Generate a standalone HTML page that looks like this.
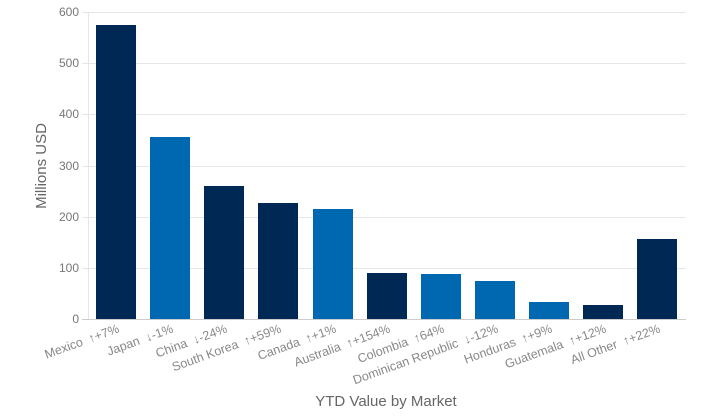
<!DOCTYPE html>
<html><head><style>body{margin:0;background:#fff}svg{display:block;font-family:"Liberation Sans",sans-serif}text{white-space:pre}</style></head><body>
<svg width="712" height="418" viewBox="0 0 712 418">
<g stroke="#e6e6e6" stroke-width="1">
<line x1="82" y1="12.5" x2="686" y2="12.5"/><line x1="82" y1="63.5" x2="686" y2="63.5"/><line x1="82" y1="114.5" x2="686" y2="114.5"/><line x1="82" y1="166.5" x2="686" y2="166.5"/><line x1="82" y1="217.5" x2="686" y2="217.5"/><line x1="82" y1="268.5" x2="686" y2="268.5"/>
<line x1="88.5" y1="12" x2="88.5" y2="319"/>
</g>
<line x1="82" y1="319.5" x2="686" y2="319.5" stroke="#ccc"/>
<g fill="#777" font-size="12" text-anchor="end">
<text x="79" y="16">600</text><text x="79" y="67">500</text><text x="79" y="118">400</text><text x="79" y="170">300</text><text x="79" y="221">200</text><text x="79" y="272">100</text><text x="79" y="323">0</text>
</g>
<g>
<rect x="96" y="25" width="40" height="294" fill="#002855"/>
<rect x="150" y="137" width="40" height="182" fill="#0067b1"/>
<rect x="204" y="186" width="40" height="133" fill="#002855"/>
<rect x="258" y="203" width="40" height="116" fill="#002855"/>
<rect x="313" y="209" width="40" height="110" fill="#0067b1"/>
<rect x="367" y="273" width="40" height="46" fill="#002855"/>
<rect x="421" y="274" width="40" height="45" fill="#0067b1"/>
<rect x="475" y="281" width="40" height="38" fill="#0067b1"/>
<rect x="529" y="302" width="40" height="17" fill="#0067b1"/>
<rect x="583" y="305" width="40" height="14" fill="#002855"/>
<rect x="637" y="239" width="40" height="80" fill="#002855"/>
</g>
<g fill="#888" font-size="12.5" text-anchor="end">
<text transform="translate(120,332) rotate(-20)">Mexico  ↑+7%</text>
<text transform="translate(174,332) rotate(-20)">Japan  ↓-1%</text>
<text transform="translate(228,332) rotate(-20)">China  ↓-24%</text>
<text transform="translate(282,332) rotate(-20)">South Korea  ↑+59%</text>
<text transform="translate(337,332) rotate(-20)">Canada  ↑+1%</text>
<text transform="translate(391,332) rotate(-20)">Australia  ↑+154%</text>
<text transform="translate(445,332) rotate(-20)">Colombia  ↑64%</text>
<text transform="translate(499,332) rotate(-20)">Dominican Republic  ↓-12%</text>
<text transform="translate(553,332) rotate(-20)">Honduras  ↑+9%</text>
<text transform="translate(607,332) rotate(-20)">Guatemala  ↑+12%</text>
<text transform="translate(661,332) rotate(-20)">All Other  ↑+22%</text>
</g>
<text x="386" y="406" fill="#666" font-size="15" text-anchor="middle">YTD Value by Market</text>
<text transform="translate(46,166) rotate(-90)" fill="#666" font-size="15" text-anchor="middle">Millions USD</text>
</svg>
</body></html>
